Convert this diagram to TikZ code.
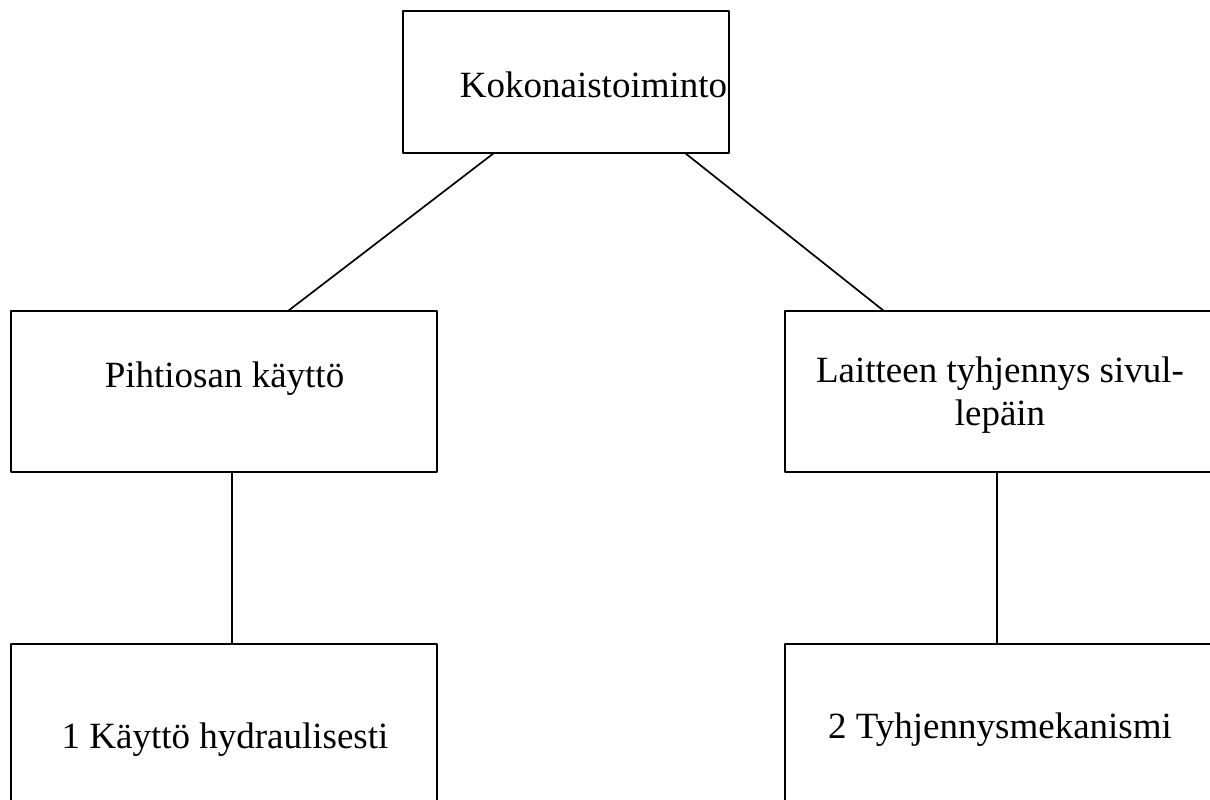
\documentclass[tikz,border=0pt]{standalone}
\usepackage{fontspec}
\setmainfont{Liberation Serif}
\begin{document}
\begin{tikzpicture}[x=1pt, y=-1pt, line join=round, line width=1.7pt,
    box/.style={draw, rectangle, inner sep=0pt, outer sep=0pt},
    lbl/.style={anchor=base, inner sep=0pt, font=\fontsize{37}{43}\selectfont}]
    \useasboundingbox (0,0) rectangle (1210,800);
    % boxes
    \node[box, minimum width=326pt, minimum height=142pt] (top) at (566,82) {};
    \node[box, minimum width=426pt, minimum height=161pt] (pih) at (224,391.5) {};
    \node[box, minimum width=430pt, minimum height=161pt] (lai) at (1000,391.5) {};
    \node[box, minimum width=426pt, minimum height=160pt] (kay) at (224,724) {};
    \node[box, minimum width=430pt, minimum height=160pt] (tyh) at (1000,724) {};
    % texts
    \node[lbl] (ttop) at (593.5,97) {Kokonaistoiminto};
    \node[lbl] (tpih) at (224.5,387) {Pihtiosan käyttö};
    \node[lbl, align=center] (tlai) at (1000,425) {Laitteen tyhjennys sivul-\\lepäin};
    \node[lbl] (tkay) at (225,748) {1 Käyttö hydraulisesti};
    \node[lbl] (ttyh) at (1000,738) {2 Tyhjennysmekanismi};
    % connectors
    \draw ([xshift=91pt]top.south west)--([xshift=277pt]pih.north west);
    \draw ([xshift=282pt]top.south west)--([xshift=99pt]lai.north west);
    \draw ([xshift=221pt]pih.south west)--([xshift=221pt]kay.north west);
    \draw ([xshift=212pt]lai.south west)--([xshift=212pt]tyh.north west);
\end{tikzpicture}
\end{document}
